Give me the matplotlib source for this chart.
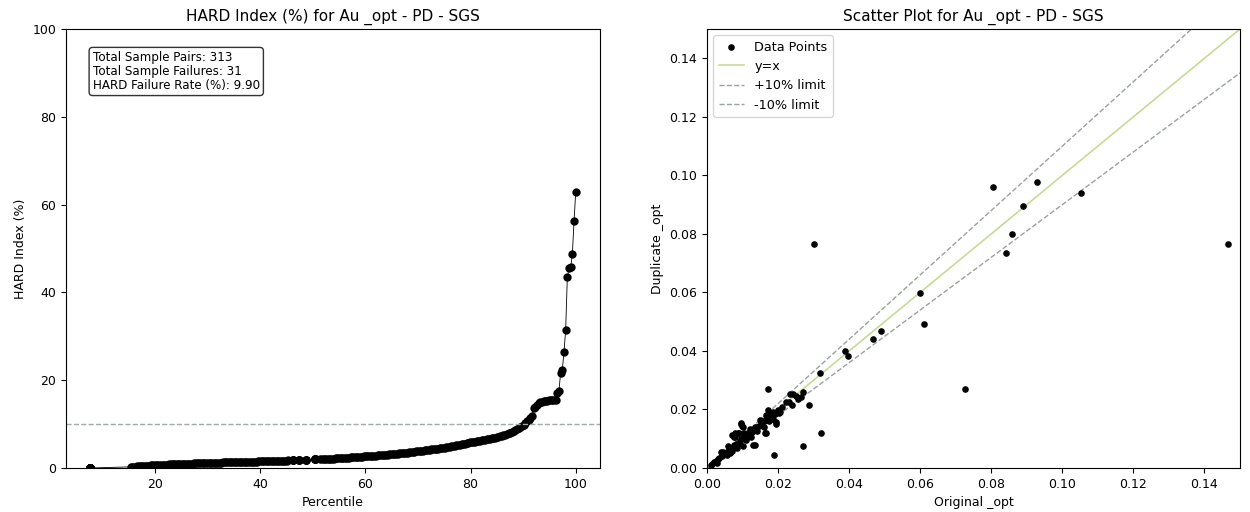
import numpy as np
import pandas as pd
import matplotlib
matplotlib.use("Agg")
import matplotlib.pyplot as plt

# ---------------- data ----------------
title_left = "HARD Index (%) for Au _opt - PD - SGS"
title_right = "Scatter Plot for Au _opt - PD - SGS"
threshold = 10

# HARD index values (%), one per sample pair (313 pairs)
hard_zero = [0.0] * 47
hard_low = [
    0.25, 0.28, 0.31, 0.34, 0.37, 0.40, 0.43, 0.45, 0.48, 0.51, 0.53, 0.56, 0.58, 0.61, 0.63,
    0.65, 0.67, 0.69, 0.71, 0.73, 0.75, 0.77, 0.79, 0.81, 0.82, 0.84, 0.85, 0.87, 0.88, 0.89,
    0.91, 0.92, 0.94, 0.95, 0.97, 0.98, 1.00, 1.01, 1.03, 1.04, 1.06, 1.07, 1.09, 1.11, 1.12, 1.14,
    1.15, 1.16, 1.17, 1.18, 1.19, 1.21, 1.22, 1.23, 1.24, 1.26, 1.27, 1.28, 1.29, 1.31, 1.32, 1.34,
    1.35, 1.36, 1.37, 1.38, 1.39, 1.40, 1.41, 1.42, 1.43, 1.44, 1.45, 1.46, 1.47, 1.48, 1.49,
    1.50, 1.51, 1.52, 1.53, 1.54, 1.55, 1.56, 1.57, 1.58, 1.59, 1.61, 1.62, 1.63, 1.65, 1.66, 1.68, 1.70, 1.72,
    1.76, 1.76, 1.76, 1.76, 1.80, 1.80, 1.80, 1.80, 1.85, 1.85, 1.85, 1.85, 1.95, 1.95, 1.95, 1.95, 1.95, 1.95,
]
hard_mid = [
    2.00, 2.02, 2.04, 2.06, 2.08, 2.10, 2.12, 2.14, 2.16, 2.18, 2.21, 2.23, 2.25, 2.28, 2.30,
    2.32, 2.35, 2.38, 2.41, 2.44, 2.47, 2.50, 2.53, 2.56, 2.59, 2.62, 2.64,
    2.66, 2.69, 2.72, 2.75, 2.78, 2.81, 2.84, 2.87, 2.90, 2.93, 2.96, 2.99, 3.02, 3.05, 3.08, 3.11,
    3.15, 3.19, 3.23, 3.27, 3.31, 3.35, 3.39, 3.43, 3.48, 3.53, 3.58, 3.63, 3.68, 3.73, 3.78, 3.83,
    3.88, 3.93, 3.98, 4.03, 4.08, 4.13, 4.18, 4.23, 4.28, 4.33, 4.38, 4.43, 4.48, 4.53, 4.58, 4.63,
    4.70, 4.78, 4.86, 4.94, 5.02, 5.10, 5.18, 5.26, 5.34, 5.42, 5.50, 5.58, 5.66, 5.75, 5.85,
    5.92, 5.98, 6.04, 6.10, 6.17, 6.24, 6.31, 6.38, 6.45, 6.52, 6.60, 6.68, 6.76, 6.84, 6.92, 7.00,
    7.10, 7.22, 7.35, 7.48, 7.62, 7.76, 7.90, 8.05, 8.20,
    8.40, 8.62, 8.85, 9.08, 9.30, 9.55, 9.85,
]
hard_high = [
    10.2, 10.6, 11.0, 11.4, 11.8,
    13.6, 13.9, 14.3, 14.7, 15.0, 15.1, 15.2, 15.3, 15.35, 15.4, 15.45, 15.5, 15.55, 15.6,
    17.2, 17.6, 21.6, 22.3, 26.4, 31.4, 43.4, 45.5, 45.7, 48.8, 56.3, 62.9,
]

# Scatter: original vs duplicate assays
original = [
    0.1466, 0.0302, 0.0805, 0.0929, 0.1052, 0.0890, 0.0857, 0.0841, 0.0600, 0.0610,
    0.0491, 0.0466, 0.0389, 0.0398, 0.0319, 0.0725, 0.0172, 0.0321, 0.0270, 0.0189,
    0.0286, 0.0270, 0.0265, 0.0231, 0.0239, 0.0242, 0.0233, 0.0204, 0.0194, 0.0193,
    0.0166, 0.0172, 0.0135, 0.0096, 0.0101, 0.0069, 0.0087, 0.0101, 0.0065, 0.0045,
    0.0028, 0.0097, 0.0098, 0.0078, 0.0130, 0.0163, 0.0205, 0.0067, 0.0050, 0.0046,
    0.0010, 0.0014, 0.0019, 0.0024, 0.0031, 0.0034, 0.0041, 0.0046, 0.0052, 0.0056,
    0.0061, 0.0066, 0.0072, 0.0076, 0.0081, 0.0086, 0.0092, 0.0095, 0.0102, 0.0106,
    0.0111, 0.0116, 0.0121, 0.0126, 0.0131, 0.0136, 0.0141, 0.0146, 0.0151, 0.0156,
    0.0161, 0.0166, 0.0171, 0.0176, 0.0181, 0.0186, 0.0191, 0.0199, 0.0212, 0.0222,
    0.0040, 0.0055, 0.0070, 0.0060, 0.0080, 0.0085, 0.0090, 0.0110, 0.0120, 0.0125,
    0.0140, 0.0150, 0.0160, 0.0175, 0.0185, 0.0165, 0.0075, 0.0105, 0.0250, 0.0255,
]
duplicate = [
    0.0765, 0.0765, 0.0959, 0.0979, 0.0940, 0.0897, 0.0798, 0.0734, 0.0598, 0.0492,
    0.0467, 0.0440, 0.0400, 0.0384, 0.0325, 0.0270, 0.0270, 0.0121, 0.0075, 0.0044,
    0.0215, 0.0259, 0.0244, 0.0227, 0.0215, 0.0252, 0.0252, 0.0187, 0.0158, 0.0150,
    0.0121, 0.0198, 0.0079, 0.0150, 0.0141, 0.0113, 0.0121, 0.0075, 0.0050, 0.0056,
    0.0016, 0.0153, 0.0144, 0.0119, 0.0078, 0.0121, 0.0192, 0.0067, 0.0050, 0.0050,
    0.0010, 0.0015, 0.0019, 0.0023, 0.0031, 0.0033, 0.0041, 0.0048, 0.0052, 0.0054,
    0.0061, 0.0068, 0.0072, 0.0078, 0.0081, 0.0083, 0.0092, 0.0098, 0.0102, 0.0104,
    0.0111, 0.0119, 0.0121, 0.0124, 0.0131, 0.0139, 0.0141, 0.0143, 0.0151, 0.0159,
    0.0161, 0.0163, 0.0171, 0.0179, 0.0181, 0.0191, 0.0186, 0.0199, 0.0207, 0.0226,
    0.0055, 0.0045, 0.0058, 0.0075, 0.0105, 0.0070, 0.0118, 0.0095, 0.0135, 0.0105,
    0.0125, 0.0165, 0.0140, 0.0160, 0.0168, 0.0180, 0.0107, 0.0120, 0.0245, 0.0236,
]

# ---------------- derived ----------------
hard = pd.Series(hard_zero + hard_low + hard_mid + hard_high).sort_values().reset_index(drop=True)
percentile = hard.rank(pct=True) * 100
n_pairs = len(hard)
n_fail = int((hard > threshold).sum())
fail_rate = n_fail / n_pairs * 100

# ---------------- figure ----------------
plt.rcParams['font.family'] = ['DejaVu Sans']
fig = plt.figure(figsize=(12.5, 5.12), dpi=100)
ax1 = fig.add_axes([0.0528, 0.0859, 0.4272, 0.8574])
ax2 = fig.add_axes([0.5656, 0.0859, 0.4264, 0.8574])

tick_fs = 9
lab_fs = 9
title_fs = 11

ax1.plot(percentile, hard, marker='o', color='black', markersize=5, linewidth=0.6)
ax1.axhline(threshold, color='#a0aaa0', linestyle='--', linewidth=1.0)
ax1.set_ylim(0, 100)
ax1.set_title(title_left, fontsize=title_fs)
ax1.set_xlabel("Percentile", fontsize=lab_fs)
ax1.set_ylabel("HARD Index (%)", fontsize=lab_fs)
ax1.tick_params(labelsize=tick_fs)
ax1.text(0.05, 0.95,
         f"Total Sample Pairs: {n_pairs}\nTotal Sample Failures: {n_fail}\nHARD Failure Rate (%): {fail_rate:.2f}",
         transform=ax1.transAxes, va='top', ha='left', fontsize=8.6, linespacing=1.1,
         bbox=dict(boxstyle='round,pad=0.3', facecolor='white', edgecolor='#333333'))

lim = 0.15
line_x = np.array([0, lim])
ax2.scatter(original, duplicate, s=14, color='black', label='Data Points', zorder=3)
ax2.plot(line_x, line_x, color='#c6db96', linewidth=1.2, label='y=x')
ax2.plot(line_x, line_x * 1.1, color='#9aa29c', linestyle='--', linewidth=1.0, label='+10% limit')
ax2.plot(line_x, line_x * 0.9, color='#9aa29c', linestyle='--', linewidth=1.0, label='-10% limit')
ax2.set_xlim(0, lim)
ax2.set_ylim(0, lim)
ax2.set_title(title_right, fontsize=title_fs)
ax2.set_xlabel("Original _opt", fontsize=lab_fs)
ax2.set_ylabel("Duplicate _opt", fontsize=lab_fs)
ax2.tick_params(labelsize=tick_fs)
ax2.legend(loc='upper left', fontsize=9.2)

fig.savefig("out.png", dpi=100)
